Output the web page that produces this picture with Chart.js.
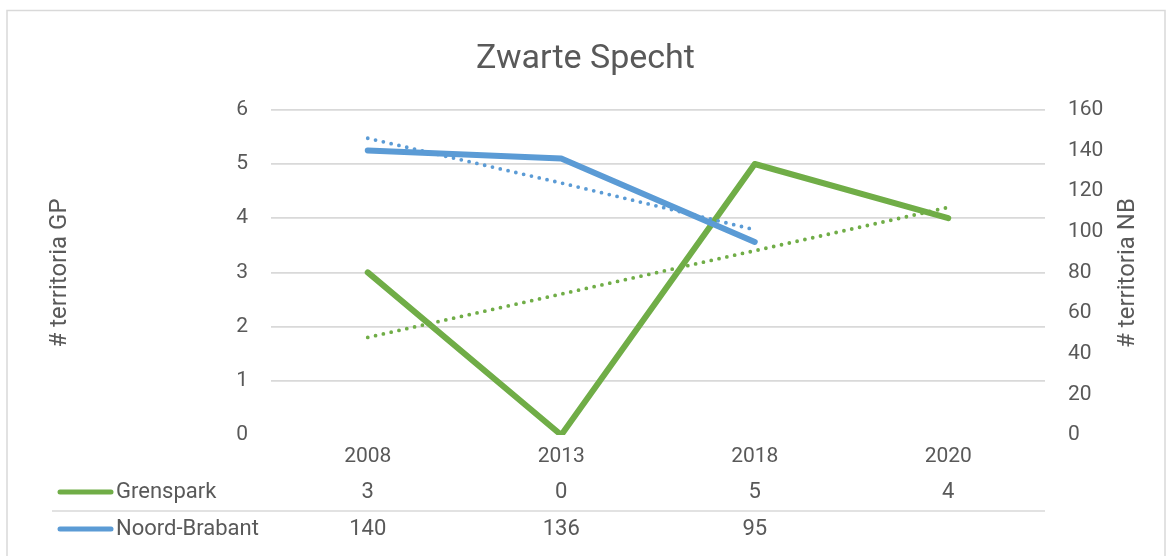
<!DOCTYPE html>
<html>
<head>
<meta charset="utf-8">
<script src="https://cdn.jsdelivr.net/npm/chart.js@4.4.1/dist/chart.umd.min.js"></script>
<style>
  html, body { margin: 0; padding: 0; background: #fff; }
  #wrap { position: relative; width: 1171px; height: 556px; }
</style>
</head>
<body>
<div id="wrap"><canvas id="chart"></canvas></div>
<script>
const chartTitle = 'Zwarte Specht';
const years = ['2008', '2013', '2018', '2020'];
const grenspark = [3, 0, 5, 4];
const noordBrabant = [140, 136, 95, null];
// dotted linear trendlines
const grensparkTrend = [1.8, 2.6, 3.4, 4.2];
const noordBrabantTrend = [146, 124, 101, null];
const seriesNames = ['Grenspark', 'Noord-Brabant'];
const leftTitle = '# territoria GP';
const rightTitle = '# territoria NB';

const green = '#70ad47';
const blue = '#5b9bd5';
const textColor = '#595959';
const gridColor = '#d9d9d9';
const fontFamily = 'Roboto, "Open Sans", sans-serif';

const frame = {
  id: 'frame',
  beforeDraw(chart) {
    const ctx = chart.ctx;
    ctx.save();
    ctx.strokeStyle = gridColor;
    ctx.lineWidth = 1.5;
    ctx.strokeRect(7, 10.5, 1158, 600);
    ctx.restore();
  }
};

// axis titles and the data table under the plot
const extras = {
  id: 'extras',
  afterDraw(chart) {
    const ctx = chart.ctx;
    const x = chart.scales.x;
    ctx.save();
    ctx.fillStyle = textColor;

    ctx.font = '24px ' + fontFamily;
    ctx.textAlign = 'center';
    ctx.textBaseline = 'middle';
    [[60, leftTitle], [1128, rightTitle]].forEach(([cx, txt]) => {
      ctx.save();
      ctx.translate(cx, 273);
      ctx.rotate(-Math.PI / 2);
      ctx.fillText(txt, 0, 0);
      ctx.restore();
    });

    const rows = [
      { name: seriesNames[0], vals: grenspark, color: green, y: 492 },
      { name: seriesNames[1], vals: noordBrabant, color: blue, y: 529 }
    ];
    ctx.font = '22px ' + fontFamily;
    rows.forEach(r => {
      ctx.strokeStyle = r.color;
      ctx.lineWidth = 5;
      ctx.lineCap = 'round';
      ctx.beginPath();
      ctx.moveTo(60, r.y);
      ctx.lineTo(111, r.y);
      ctx.stroke();
      ctx.textAlign = 'left';
      ctx.fillText(r.name, 116, r.y);
      ctx.textAlign = 'center';
      r.vals.forEach((v, i) => {
        if (v == null) return;
        ctx.fillText(String(v), x.getPixelForValue(i), r.y);
      });
    });

    ctx.strokeStyle = gridColor;
    ctx.lineWidth = 1.5;
    ctx.lineCap = 'butt';
    ctx.beginPath();
    ctx.moveTo(52, 511);
    ctx.lineTo(chart.chartArea.right, 511);
    ctx.stroke();
    ctx.restore();
  }
};

new Chart(document.getElementById('chart'), {
  type: 'line',
  data: {
    labels: years,
    datasets: [
      { label: seriesNames[0], data: grenspark, yAxisID: 'y', borderColor: green, borderWidth: 6,
        pointRadius: 0, borderCapStyle: 'round', borderJoinStyle: 'round', order: 2 },
      { label: seriesNames[1], data: noordBrabant, yAxisID: 'y1', borderColor: blue, borderWidth: 6,
        pointRadius: 0, borderCapStyle: 'round', borderJoinStyle: 'round', order: 1 },
      { label: 'trend GP', data: grensparkTrend, yAxisID: 'y', borderColor: green, borderWidth: 3.8,
        borderDash: [0, 8], borderCapStyle: 'round', pointRadius: 0, order: 0 },
      { label: 'trend NB', data: noordBrabantTrend, yAxisID: 'y1', borderColor: blue, borderWidth: 3.8,
        borderDash: [0, 8], borderCapStyle: 'round', pointRadius: 0, order: 0 }
    ]
  },
  options: {
    responsive: true,
    maintainAspectRatio: false,
    animation: false,
    layout: { padding: 0 },
    plugins: {
      legend: { display: false },
      tooltip: { enabled: false },
      title: {
        display: true,
        text: chartTitle,
        color: textColor,
        font: { family: fontFamily, size: 34, weight: 'normal' },
        padding: { top: 39, bottom: 30 }
      }
    },
    scales: {
      x: {
        offset: true,
        grid: { display: false, drawTicks: false },
        border: { display: false },
        ticks: { color: textColor, padding: 9, font: { family: fontFamily, size: 21 } },
        afterFit: s => { s.height = 121; }
      },
      y: {
        position: 'left',
        min: 0, max: 6,
        ticks: { stepSize: 1, color: textColor, padding: 23, font: { family: fontFamily, size: 21 } },
        grid: { color: c => c.tick && c.tick.value === 0 ? 'rgba(0,0,0,0)' : gridColor, lineWidth: 1.8, drawTicks: false },
        border: { display: false },
        afterFit: s => { s.width = 271; }
      },
      y1: {
        position: 'right',
        min: 0, max: 160,
        ticks: { stepSize: 20, color: textColor, padding: 23, font: { family: fontFamily, size: 21 } },
        grid: { display: false, drawTicks: false },
        border: { display: false },
        afterFit: s => { s.width = 126; }
      }
    }
  },
  plugins: [frame, extras]
});
</script>
</body>
</html>
